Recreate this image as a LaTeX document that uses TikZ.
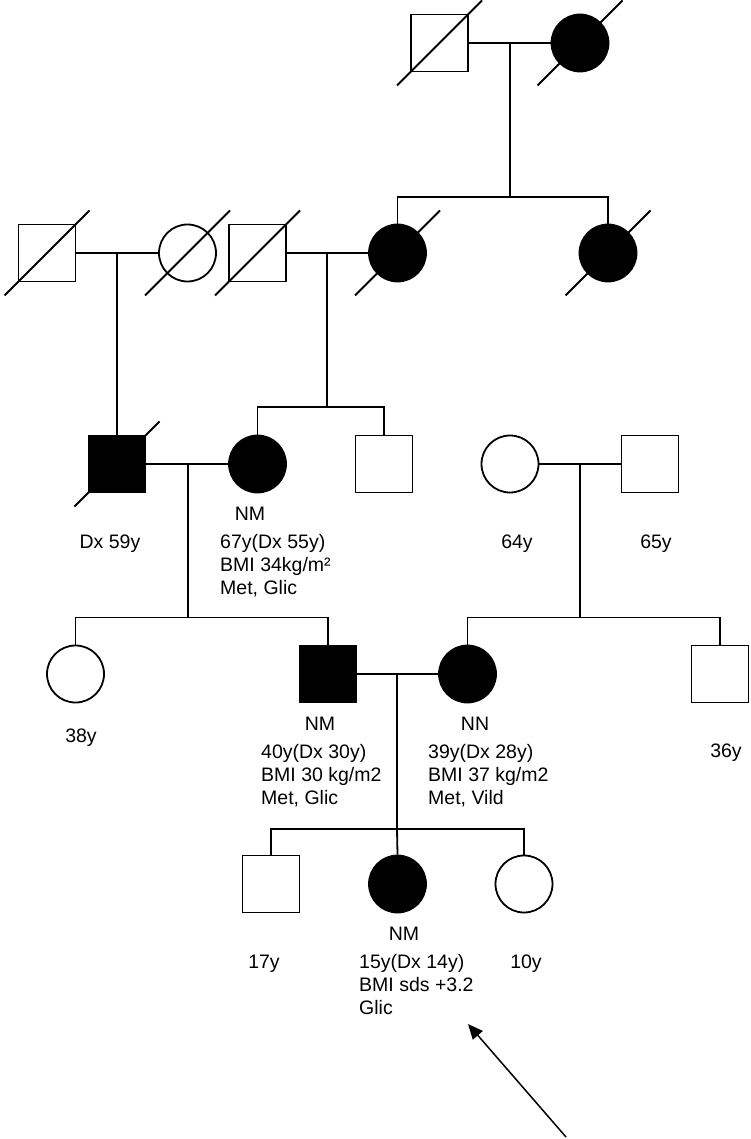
\documentclass[tikz,border=0pt]{standalone}
\usepackage{fontspec}
\setmainfont{Liberation Sans}
\usetikzlibrary{calc,arrows.meta}
\tikzset{
  sym/.style={draw, line width=1.8pt, minimum size=57pt, inner sep=0pt, fill=white},
  male/.style={sym, rectangle},
  female/.style={sym, circle},
  aff/.style={fill=black},
  ln/.style={line width=1.8pt},
  lbl/.style={font=\fontsize{19.5}{23}\selectfont, inner sep=0pt},
  lc/.style={lbl, anchor=base},
  ll/.style={lbl, anchor=base west},
  dec/.style={line width=1.8pt},
}
\newcommand{\deceased}[1]{\draw[dec] ($(#1)+(-42.5,42.5)$) -- ($(#1)+(42.5,-42.5)$);}
\begin{document}
\begin{tikzpicture}[x=1pt,y=-1pt]
\useasboundingbox (0,0) rectangle (750,1139);
% ---------- Generation I
\node[male] (I1) at (439.5,43) {};
\node[female,aff] (I2) at (580,43) {};
% ---------- Generation II
\node[male] (IIa) at (47,253) {};
\node[female] (IIb) at (187.5,253) {};
\node[male] (IIc) at (257.5,253) {};
\node[female,aff] (IId) at (397.5,253) {};
\node[female,aff] (IIe) at (608,253) {};
% ---------- Generation III
\node[male,aff] (IIIf) at (117,464) {};
\node[female,aff] (IIIg) at (257.5,464) {};
\node[male] (IIIh) at (384,464) {};
\node[female] (IIIi) at (510,464) {};
\node[male] (IIIj) at (650,464) {};
% ---------- Generation IV
\node[female] (IVk) at (75.5,674) {};
\node[male,aff] (IVl) at (328,674) {};
\node[female,aff] (IVm) at (467.5,674) {};
\node[male] (IVn) at (720,674) {};
% ---------- Generation V
\node[male] (Vo) at (271,884) {};
\node[female,aff] (Vp) at (397.5,884) {};
\node[female] (Vq) at (524,884) {};

% ---------- coordinates for lines of descent
\coordinate (mI) at (510,43);
\coordinate (sI) at (510,197);
\coordinate (mIIab) at (117,253);
\coordinate (mIIcd) at (327,253);
\coordinate (sIIcd) at (327,407);
\coordinate (mIIIfg) at (188,464);
\coordinate (sIIIfg) at (188,617.5);
\coordinate (mIIIij) at (580,464);
\coordinate (sIIIij) at (580,617.5);
\coordinate (mIVlm) at (397,674);
\coordinate (sIVlm) at (397,829);

% ---------- connectors
\draw[ln] (I1.east) -- (I2.west);
\draw[ln] (mI) -- (sI);
\draw[ln] (IId.north) |- (sI) -| (IIe.north);

\draw[ln] (IIa.east) -- (IIb.west);
\draw[ln] (IIc.east) -- (IId.west);
\draw[ln] (mIIab) -- (IIIf.north);
\draw[ln] (mIIcd) -- (sIIcd);
\draw[ln] (IIIg.north) |- (sIIcd) -| (IIIh.north);

\draw[ln] (IIIf.east) -- (IIIg.west);
\draw[ln] (IIIi.east) -- (IIIj.west);
\draw[ln] (mIIIfg) -- (sIIIfg);
\draw[ln] (IVk.north) |- (sIIIfg) -| (IVl.north);
\draw[ln] (mIIIij) -- (sIIIij);
\draw[ln] (IVm.north) |- (sIIIij) -| (IVn.north);

\draw[ln] (IVl.east) -- (IVm.west);
\draw[ln] (mIVlm) -- (sIVlm);
\draw[ln] (Vo.north) |- (sIVlm) -| (Vq.north);
\draw[ln] (sIVlm) -- (Vp.north);

% ---------- deceased marks
\deceased{I1}
\deceased{I2}
\deceased{IIa}
\deceased{IIb}
\deceased{IIc}
\deceased{IId}
\deceased{IIe}
\deceased{IIIf}

% ---------- labels generation III
\node[lc] (tf) at (110,548) {Dx 59y};
\node[lc] (tg0) at (250,520) {NM};
\node[ll] (tg1) at (220,548) {67y(Dx 55y)};
\node[ll] (tg2) at (220,571) {BMI 34kg/m²};
\node[ll] (tg3) at (220,594) {Met, Glic};
\node[lc] (ti) at (517,548) {64y};
\node[lc] (tj) at (656,548) {65y};
% ---------- labels generation IV
\node[lc] (tk) at (81,742) {38y};
\node[lc] (tl0) at (320,730) {NM};
\node[ll] (tl1) at (261,758) {40y(Dx 30y)};
\node[ll] (tl2) at (261,781) {BMI 30 kg/m2};
\node[ll] (tl3) at (261,804) {Met, Glic};
\node[lc] (tm0) at (475,730) {NN};
\node[ll] (tm1) at (428,758) {39y(Dx 28y)};
\node[ll] (tm2) at (428,781) {BMI 37 kg/m2};
\node[ll] (tm3) at (428,804) {Met, Vild};
\node[lc] (tn) at (726,757) {36y};
% ---------- labels generation V
\node[lc] (tp0) at (404,940) {NM};
\node[lc] (to) at (264,968) {17y};
\node[ll] (tp1) at (359,968) {15y(Dx 14y)};
\node[ll] (tp2) at (359,991) {BMI sds +3.2};
\node[ll] (tp3) at (359,1014) {Glic};
\node[lc] (tq) at (526,968) {10y};

% ---------- proband arrow
\coordinate (arT) at (566,1137);
\coordinate (arH) at (468,1024);
\draw[line width=1.5pt, -{Triangle[length=15pt,width=13pt]}] (arT) -- (arH);
\end{tikzpicture}
\end{document}
